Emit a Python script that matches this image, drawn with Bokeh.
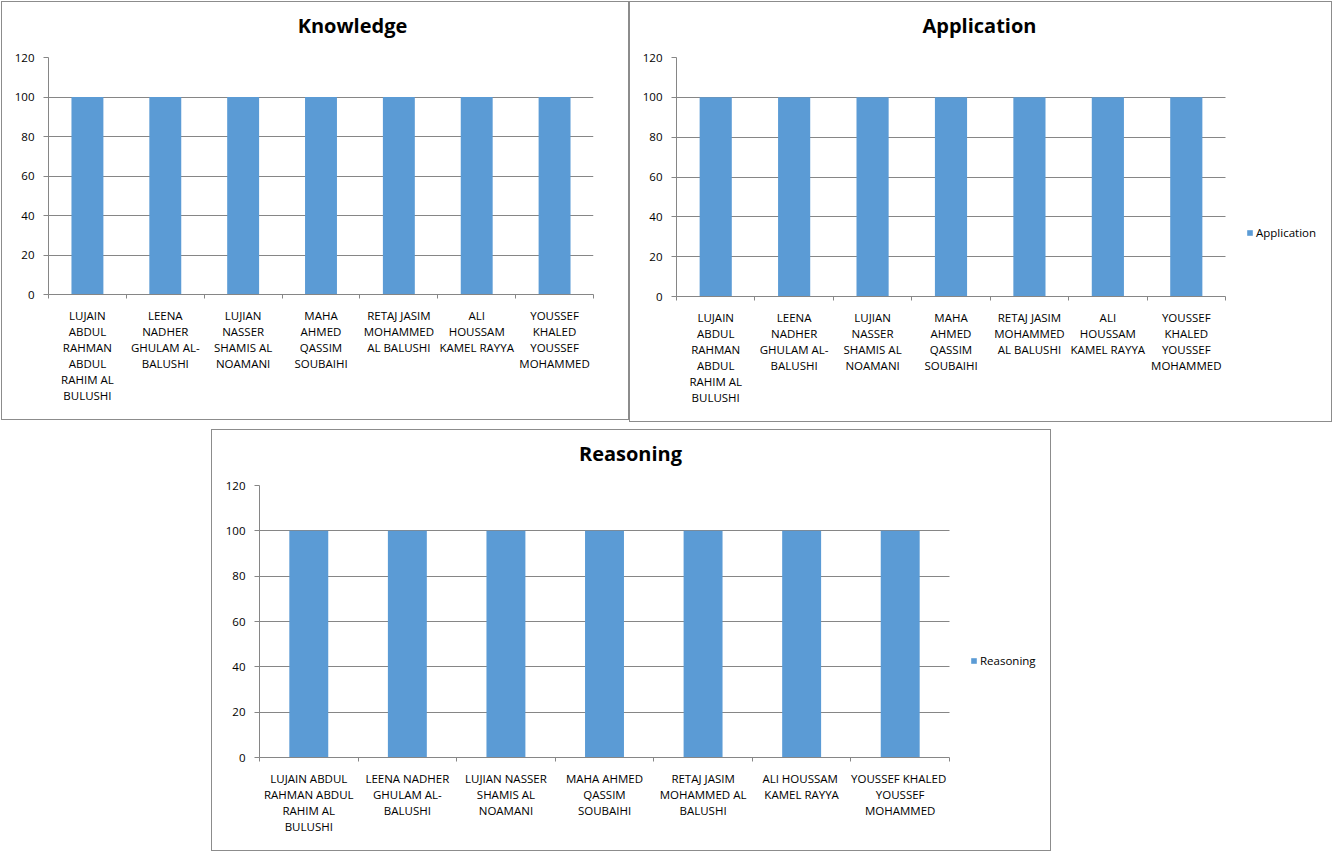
from bokeh.plotting import figure
from bokeh.models import (Range1d, FixedTicker, LinearAxis, Label, Legend, LegendItem,
                          Spacer, Grid)
from bokeh.layouts import row, column
from bokeh.embed import file_html
from bokeh.resources import INLINE

# ---------------- data ----------------
names = [
    "LUJAIN ABDUL RAHMAN ABDUL RAHIM AL BULUSHI",
    "LEENA NADHER GHULAM AL-BALUSHI",
    "LUJIAN NASSER SHAMIS AL NOAMANI",
    "MAHA AHMED QASSIM SOUBAIHI",
    "RETAJ JASIM MOHAMMED AL BALUSHI",
    "ALI  HOUSSAM KAMEL RAYYA",
    "YOUSSEF  KHALED YOUSSEF MOHAMMED",
]
labels_narrow = [
    "LUJAIN\nABDUL\nRAHMAN\nABDUL\nRAHIM AL\nBULUSHI",
    "LEENA\nNADHER\nGHULAM AL-\nBALUSHI",
    "LUJIAN\nNASSER\nSHAMIS AL\nNOAMANI",
    "MAHA\nAHMED\nQASSIM\nSOUBAIHI",
    "RETAJ JASIM\nMOHAMMED\nAL BALUSHI",
    "ALI\nHOUSSAM\nKAMEL RAYYA",
    "YOUSSEF\nKHALED\nYOUSSEF\nMOHAMMED",
]
labels_wide = [
    "LUJAIN ABDUL\nRAHMAN ABDUL\nRAHIM AL\nBULUSHI",
    "LEENA NADHER\nGHULAM AL-\nBALUSHI",
    "LUJIAN NASSER\nSHAMIS AL\nNOAMANI",
    "MAHA AHMED\nQASSIM\nSOUBAIHI",
    "RETAJ JASIM\nMOHAMMED AL\nBALUSHI",
    "ALI  HOUSSAM\nKAMEL RAYYA",
    "YOUSSEF  KHALED\nYOUSSEF\nMOHAMMED",
]
knowledge = [100, 100, 100, 100, 100, 100, 100]
application = [100, 100, 100, 100, 100, 100, 100]
reasoning = [100, 100, 100, 100, 100, 100, 100]
y_ticks = [0, 20, 40, 60, 80, 100, 120]

# ---------------- styles ----------------
FONT = "Open Sans"
BAR = "#5B9BD5"
GRID = "#868686"
BORDER = "#8C8C8C"
TEXT = "#000000"
FS = "11.5px"


def make_panel(title, values, labels, width, height, mb, plot_px, bar_w, title_x,
               legend_xy=None):
    """mb = (left, right, top, bottom) borders; plot_px = pixel width of the
    category area (the frame may extend further right to host the legend)."""
    n = len(names)
    xs = [i + 0.5 for i in range(n)]
    frame_px = width - mb[0] - mb[1]
    x_end = n * frame_px / plot_px
    p = figure(width=width, height=height,
               x_range=Range1d(0, x_end), y_range=Range1d(y_ticks[0], y_ticks[-1]),
               x_axis_type=None, y_axis_type=None,
               toolbar_location=None, output_backend="svg",
               min_border_left=mb[0], min_border_right=mb[1],
               min_border_top=mb[2], min_border_bottom=mb[3])
    p.outline_line_color = None
    p.background_fill_color = "white"
    p.border_fill_color = "white"

    r = p.vbar(x=xs, top=values, width=bar_w, fill_color=BAR, line_color=None)

    yt = FixedTicker(ticks=y_ticks)
    yaxis = LinearAxis(ticker=yt)
    yaxis.axis_line_color = GRID
    yaxis.major_tick_line_color = GRID
    yaxis.major_tick_in = 0
    yaxis.major_tick_out = 5
    yaxis.minor_tick_line_color = None
    yaxis.major_label_standoff = 9
    yaxis.major_label_text_font = FONT
    yaxis.major_label_text_font_size = FS
    yaxis.major_label_text_color = TEXT
    p.add_layout(yaxis, "left")

    xt = FixedTicker(ticks=xs, minor_ticks=list(range(n + 1)))
    xaxis = LinearAxis(ticker=xt, bounds=(0, n),
                       major_label_overrides={x: l for x, l in zip(xs, labels)})
    xaxis.axis_line_color = GRID
    xaxis.major_tick_line_color = None
    xaxis.major_tick_in = 0
    xaxis.major_tick_out = 0
    xaxis.minor_tick_line_color = GRID
    xaxis.minor_tick_in = 0
    xaxis.minor_tick_out = 4
    xaxis.major_label_standoff = 9
    xaxis.major_label_text_font = FONT
    xaxis.major_label_text_font_size = FS
    xaxis.major_label_text_color = TEXT
    xaxis.major_label_text_line_height = 1.07
    xaxis.major_label_orientation = "horizontal"
    p.add_layout(xaxis, "below")

    grid = Grid(dimension=1, ticker=yt, grid_line_color=GRID, cross_bounds=(0, n))
    p.add_layout(grid)

    p.add_layout(Label(x=title_x, y=32, x_units="screen", y_units="screen",
                       text=title, text_font=FONT, text_font_size="20px",
                       text_font_style="bold", text_color=TEXT,
                       text_align="center", text_baseline="alphabetic"), "above")

    if legend_xy is not None:
        leg = Legend(items=[LegendItem(label=title, renderers=[r])],
                     location=legend_xy, padding=0, margin=0, spacing=0,
                     glyph_width=7, glyph_height=7, label_standoff=3,
                     label_height=14,
                     label_text_font=FONT, label_text_font_size=FS,
                     label_text_color=TEXT,
                     border_line_color=None, background_fill_alpha=0)
        p.add_layout(leg)

    # 1px chart-area border drawn by a wrapper around the figure
    return column(p, styles={"border": "1px solid " + BORDER})


p1 = make_panel("Knowledge", knowledge, labels_narrow, 626, 417,
                (46, 35, 55, 125), 545, 0.41, 304)
p2 = make_panel("Application", application, labels_narrow, 701, 419,
                (46, 1, 55, 125), 549, 0.41, 303, legend_xy=(570, 56))
p3 = make_panel("Reasoning", reasoning, labels_wide, 838, 420,
                (47, 1, 55, 93), 690, 0.395, 371, legend_xy=(711, 89))

root = column(row(p1, p2), Spacer(height=7), row(Spacer(width=210), p3),
              styles={"margin-top": "1px", "margin-left": "1px"})

open("out.html", "w").write(file_html(root, INLINE))
